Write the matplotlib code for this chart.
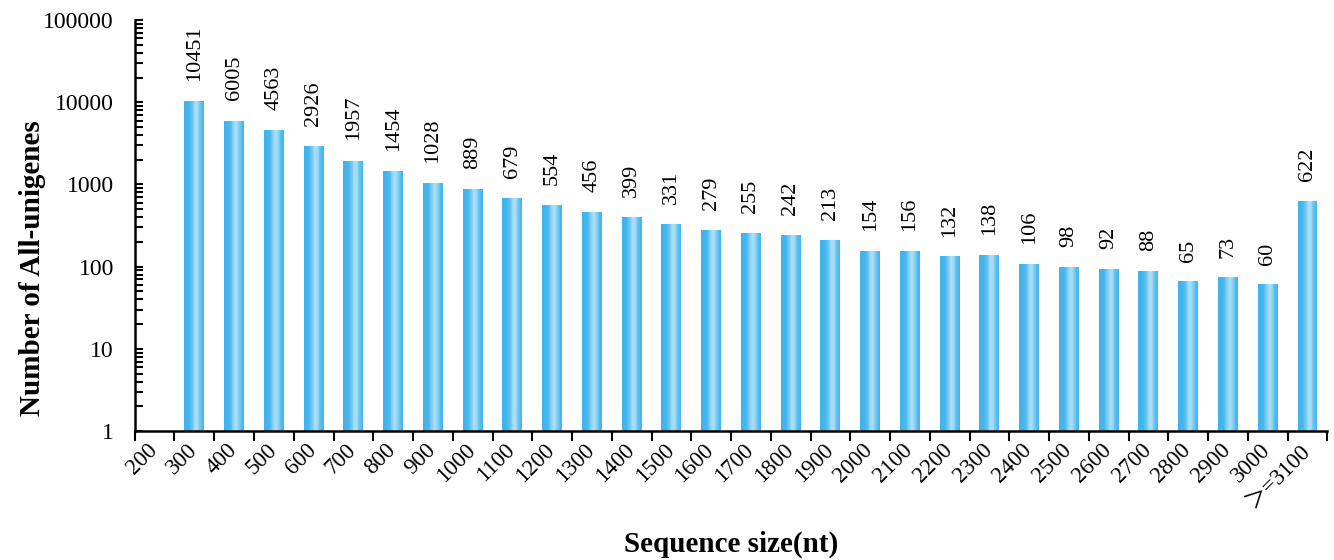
import matplotlib.pyplot as plt
import numpy as np
from matplotlib.ticker import FixedLocator, FuncFormatter, LogLocator, NullFormatter
from matplotlib.transforms import ScaledTranslation

plt.rcParams['font.family'] = ['Liberation Serif', 'Noto Sans CJK SC', 'DejaVu Sans']

# length bins (nt) and unigene counts per bin; the first bin is empty
sizes = ['200', '300', '400', '500', '600', '700', '800', '900', '1000', '1100',
         '1200', '1300', '1400', '1500', '1600', '1700', '1800', '1900', '2000',
         '2100', '2200', '2300', '2400', '2500', '2600', '2700', '2800', '2900',
         '3000', '＞=3100']
counts = [np.nan, 10451, 6005, 4563, 2926, 1957, 1454, 1028, 889, 679,
          554, 456, 399, 331, 279, 255, 242, 213, 154,
          156, 132, 138, 106, 98, 92, 88, 65, 73,
          60, 622]

fig = plt.figure(figsize=(13.34, 5.6), dpi=100)
ax = fig.add_axes([0.101, 0.2304, 0.894, 0.7336])
ax.set_yscale('log')
ax.set_ylim(1, 100000)
ax.set_xlim(-0.5, len(sizes) - 0.5)

x = np.arange(len(sizes))
width = 0.5

# horizontal gradient across each bar: darker edges, light streak right of centre
edge = np.array([0x3f, 0xb4, 0xec]) / 255
light = np.array([0xaa, 0xde, 0xf7]) / 255
n_strips = 24
u = (np.arange(n_strips) + 0.5) / n_strips
w = np.exp(-((u - 0.6) / 0.22) ** 2)
strip_w = width / n_strips
for i in range(n_strips):
    col = edge * (1 - w[i]) + light * w[i]
    ax.bar(x - width / 2 + (i + 0.5) * strip_w, counts, width=strip_w * 1.02,
           bottom=1, color=col, linewidth=0, zorder=2)

for xi, c in zip(x, counts):
    if np.isnan(c):
        continue
    ax.annotate(f'{c:d}', (xi, c), xytext=(0, 14.5), textcoords='offset points',
                rotation=90, ha='center', va='bottom', fontsize=16)

# y axis: decades with inward minor ticks
ax.yaxis.set_major_locator(FixedLocator([1, 10, 100, 1000, 10000, 100000]))
ax.yaxis.set_major_formatter(FuncFormatter(lambda v, p: f'{int(v)}'))
ax.yaxis.set_minor_locator(LogLocator(base=10, subs=np.arange(2, 10), numticks=20))
ax.yaxis.set_minor_formatter(NullFormatter())
ax.tick_params(axis='y', which='both', direction='in', length=6, width=1.5,
               labelsize=17, pad=15)

# x axis: ticks between bins, labels under bin centres
ax.xaxis.set_major_locator(FixedLocator(np.arange(len(sizes) + 1) - 0.5))
ax.xaxis.set_major_formatter(NullFormatter())
ax.xaxis.set_minor_locator(FixedLocator(x))
ax.set_xticklabels(sizes, minor=True, rotation=45, ha='right', va='bottom',
                   rotation_mode='anchor', fontsize=16.5)
ax.tick_params(axis='x', which='major', direction='out', length=7, width=1.5)
ax.tick_params(axis='x', which='minor', length=0, pad=17)
shift = ScaledTranslation(7 / 100, 0, fig.dpi_scale_trans)
for lbl in ax.get_xticklabels(minor=True):
    lbl.set_transform(lbl.get_transform() + shift)

for side in ['top', 'right']:
    ax.spines[side].set_visible(False)
for side in ['left', 'bottom']:
    ax.spines[side].set_linewidth(1.8)

ax.set_ylabel('Number of All-unigenes', fontsize=21, fontweight='bold')
ax.yaxis.set_label_coords(-0.074, 0.397)
ax.set_xlabel('Sequence size(nt)', fontsize=21, fontweight='bold')
ax.xaxis.set_label_coords(0.5, -0.243)

fig.savefig('out.png', dpi=100)
